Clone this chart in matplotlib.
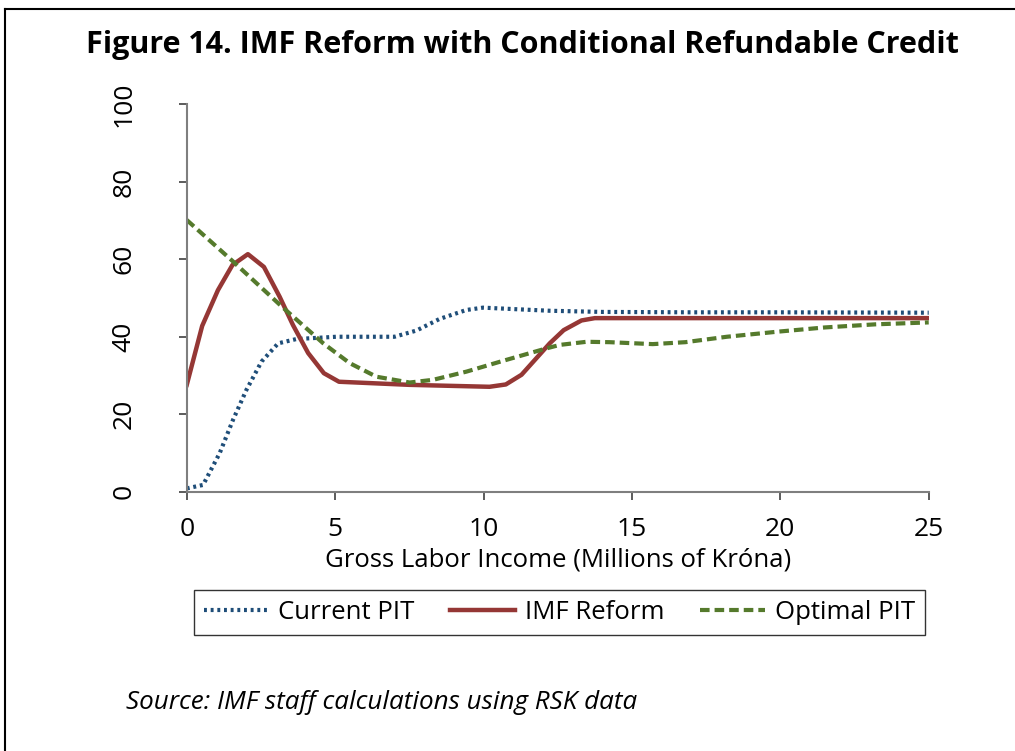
import matplotlib.pyplot as plt
from matplotlib.lines import Line2D

# 読み取った値（所得: 百万クローナ, 率: %）
current_x = [0, 0.55, 1.11, 1.56, 2.01, 2.52, 3.08, 3.69, 5.04, 7.0, 7.74, 8.52, 9.42, 9.98, 11.1, 12.23, 14.0, 17.0, 20.0, 25.0]
current_y = [0.9, 1.8, 10.0, 18.6, 26.3, 33.6, 38.3, 39.4, 40.0, 40.0, 41.6, 44.6, 46.9, 47.5, 47.1, 46.7, 46.4, 46.3, 46.3, 46.2]

reform_x = [0, 0.52, 1.05, 1.54, 2.06, 2.6, 3.13, 3.58, 4.09, 4.62, 5.13, 7.5, 10.2, 10.75, 11.28, 12.23, 12.7, 13.3, 13.75, 20.0, 25.0]
reform_y = [27.6, 42.8, 52.0, 58.5, 61.3, 58.0, 50.3, 43.0, 35.8, 30.6, 28.4, 27.6, 27.1, 27.7, 30.2, 38.3, 41.7, 44.2, 44.8, 44.8, 44.8]

optimal_x = [0, 1.56, 3.2, 4.6, 5.49, 6.39, 7.51, 8.3, 9.42, 10.66, 12.12, 12.57, 13.47, 14.25, 15.7, 16.8, 18.2, 19.9, 21.5, 23.2, 25.0]
optimal_y = [70.1, 59.4, 47.8, 38.3, 33.2, 29.7, 28.2, 28.9, 31.0, 33.8, 37.0, 37.9, 38.7, 38.6, 38.1, 38.6, 40.0, 41.3, 42.4, 43.2, 43.7]

x_ticks = [0, 5, 10, 15, 20, 25]
y_ticks = [0, 20, 40, 60, 80, 100]

blue = "#1f4e79"
red = "#953735"
green = "#557a2c"

plt.rcParams['font.family'] = ['Open Sans', 'DejaVu Sans']

fig = plt.figure(figsize=(10.15, 7.51), dpi=100)
ax = fig.add_axes([0.184, 0.345, 0.731, 0.5165])

ax.plot(current_x, current_y, color=blue, lw=3.0, ls=(0, (0.7, 0.9)))
ax.plot(reform_x, reform_y, color=red, lw=3.2, ls="-")
ax.plot(optimal_x, optimal_y, color=green, lw=3.0, ls=(0, (2.3, 1.2)))

ax.set_xlim(0, 25)
ax.set_ylim(0, 100)
ax.set_xticks(x_ticks)
ax.set_yticks(y_ticks)
ax.spines["top"].set_visible(False)
ax.spines["right"].set_visible(False)
for s in ["left", "bottom"]:
    ax.spines[s].set_color("#7f7f7f")
    ax.spines[s].set_linewidth(1.5)
ax.tick_params(axis="both", direction="out", length=6, width=1.2, color="#404040", labelsize=19)
ax.tick_params(axis="x", pad=12)
ax.tick_params(axis="y", pad=30)
for lbl in ax.get_yticklabels():
    lbl.set_rotation(90)
    lbl.set_va("center")

ax.set_xlabel("Gross Labor Income (Millions of Króna)", fontsize=18.5, labelpad=4)

fig.text(0.515, 0.94, "Figure 14. IMF Reform with Conditional Refundable Credit",
         ha="center", va="center", fontsize=22, fontweight="bold")

handles = [
    Line2D([], [], color=blue, lw=3.0, ls=(0, (0.7, 0.9))),
    Line2D([], [], color=red, lw=3.2, ls="-"),
    Line2D([], [], color=green, lw=3.0, ls=(0, (2.3, 1.2))),
]
leg = fig.legend(handles, ["Current PIT", "IMF Reform", "Optimal PIT"], loc="center",
                 bbox_to_anchor=(0.551, 0.1845), ncol=3, fontsize=18.5, frameon=True,
                 fancybox=False, edgecolor="black", handlelength=2.5, columnspacing=1.4,
                 handletextpad=0.4, borderpad=0.38)
leg.get_frame().set_linewidth(1.0)

fig.text(0.124, 0.064, "Source: IMF staff calculations using RSK data",
         ha="left", va="center", fontsize=18.7, style="italic")

# 枠線
fig.add_artist(Line2D([0.005, 1.0], [0.988, 0.988], color="black", lw=1.5, transform=fig.transFigure))
fig.add_artist(Line2D([0.005, 0.005], [0.0, 0.988], color="black", lw=1.5, transform=fig.transFigure))

fig.savefig("out.png", dpi=100)
